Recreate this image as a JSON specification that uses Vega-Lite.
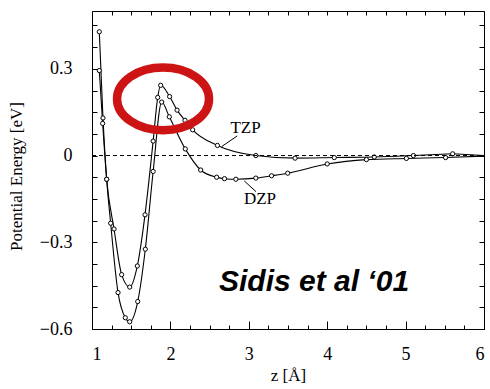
{
  "$schema": "https://vega.github.io/schema/vega-lite/v6.json",
  "width": 392,
  "height": 318,
  "autosize": "none",
  "padding": {"left": 92, "top": 11, "right": 6, "bottom": 60},
  "background": "white",
  "config": {
    "view": {"stroke": "black", "strokeWidth": 1},
    "axis": {
      "grid": false, "domain": false,
      "labelFont": "Liberation Serif", "titleFont": "Liberation Serif",
      "labelFontSize": 18, "titleFontSize": 17, "titleFontWeight": "normal",
      "labelColor": "black", "titleColor": "black", "tickColor": "black", "tickWidth": 1
    }
  },
  "datasets": {
    "curves": [
      {"series": "TZP", "z": 1.093, "E": 0.294},
      {"series": "TZP", "z": 1.136, "E": 0.111},
      {"series": "TZP", "z": 1.187, "E": -0.082},
      {"series": "TZP", "z": 1.281, "E": -0.254},
      {"series": "TZP", "z": 1.378, "E": -0.412},
      {"series": "TZP", "z": 1.481, "E": -0.455},
      {"series": "TZP", "z": 1.578, "E": -0.382},
      {"series": "TZP", "z": 1.676, "E": -0.205},
      {"series": "TZP", "z": 1.78, "E": 0.05},
      {"series": "TZP", "z": 1.838, "E": 0.201},
      {"series": "TZP", "z": 1.876, "E": 0.243},
      {"series": "TZP", "z": 1.99, "E": 0.204},
      {"series": "TZP", "z": 2.085, "E": 0.157},
      {"series": "TZP", "z": 2.186, "E": 0.122},
      {"series": "TZP", "z": 2.284, "E": 0.089},
      {"series": "TZP", "z": 2.6, "E": 0.035},
      {"series": "TZP", "z": 3.09, "E": 0.0},
      {"series": "TZP", "z": 3.59, "E": -0.009},
      {"series": "TZP", "z": 4.09, "E": -0.007},
      {"series": "TZP", "z": 4.6, "E": -0.005},
      {"series": "TZP", "z": 5.1, "E": 0.0},
      {"series": "TZP", "z": 5.6, "E": 0.006},
      {"series": "DZP", "z": 1.093, "E": 0.428},
      {"series": "DZP", "z": 1.14, "E": 0.13},
      {"series": "DZP", "z": 1.187, "E": -0.082},
      {"series": "DZP", "z": 1.238, "E": -0.234},
      {"series": "DZP", "z": 1.332, "E": -0.474},
      {"series": "DZP", "z": 1.425, "E": -0.561},
      {"series": "DZP", "z": 1.481, "E": -0.575},
      {"series": "DZP", "z": 1.583, "E": -0.505},
      {"series": "DZP", "z": 1.68, "E": -0.324},
      {"series": "DZP", "z": 1.78, "E": -0.055},
      {"series": "DZP", "z": 1.889, "E": 0.185},
      {"series": "DZP", "z": 1.986, "E": 0.134},
      {"series": "DZP", "z": 2.19, "E": 0.023},
      {"series": "DZP", "z": 2.386, "E": -0.05},
      {"series": "DZP", "z": 2.59, "E": -0.075},
      {"series": "DZP", "z": 2.69, "E": -0.08},
      {"series": "DZP", "z": 2.835, "E": -0.082},
      {"series": "DZP", "z": 3.09, "E": -0.078},
      {"series": "DZP", "z": 3.29, "E": -0.07},
      {"series": "DZP", "z": 3.496, "E": -0.061},
      {"series": "DZP", "z": 4.0, "E": -0.029},
      {"series": "DZP", "z": 4.5, "E": -0.014},
      {"series": "DZP", "z": 5.01, "E": -0.01},
      {"series": "DZP", "z": 5.51, "E": -0.007}
    ],
    "tails": [
      {"series": "TZP", "z": 5.6, "E": 0.006},
      {"series": "TZP", "z": 6.0, "E": 0.0},
      {"series": "DZP", "z": 5.51, "E": -0.007},
      {"series": "DZP", "z": 6.0, "E": -0.002}
    ],
    "zero": [{"z": 1, "E": 0}, {"z": 6, "E": 0}],
    "leaders": [
      {"label": "TZP", "z": 2.654, "E": 0.031},
      {"label": "TZP", "z": 2.853, "E": 0.068},
      {"label": "DZP", "z": 2.943, "E": -0.088},
      {"label": "DZP", "z": 3.092, "E": -0.125}
    ],
    "labels": [
      {"label": "TZP", "z": 2.958, "E": 0.095},
      {"label": "DZP", "z": 3.143, "E": -0.151}
    ],
    "note": [{"label": "Sidis et al ‘01", "z": 3.832, "E": -0.439}],
    "ring": [{"z": 1.906, "E": 0.196}]
  },
  "layer": [
    {
      "data": {"name": "curves"},
      "mark": {"type": "line", "color": "black", "strokeWidth": 1.1, "interpolate": "monotone"},
      "encoding": {
        "x": {"field": "z", "type": "quantitative", "scale": {"domain": [1, 6], "nice": false, "zero": false},
          "axis": {"orient": "bottom", "values": [1, 2, 3, 4, 5, 6], "tickSize": -8, "labelPadding": 24, "format": "d", "title": "z [Å]", "titlePadding": 4}},
        "y": {"field": "E", "type": "quantitative", "scale": {"domain": [-0.6, 0.5], "nice": false, "zero": false},
          "axis": {"orient": "left", "values": [-0.6, -0.525, -0.45, -0.375, -0.3, -0.225, -0.15, -0.075, 0, 0.075, 0.15, 0.225, 0.3, 0.375, 0.45],
            "tickSize": -5, "labelPadding": 25,
            "labelExpr": "abs(datum.value/0.3 - round(datum.value/0.3)) < 0.001 ? format(datum.value, '.1~f') : ''",
            "title": "Potential Energy [eV]", "titlePadding": 14, "titleY": 165}},
        "detail": {"field": "series"}
      }
    },
    {
      "data": {"name": "tails"},
      "mark": {"type": "line", "color": "black", "strokeWidth": 1.1},
      "encoding": {
        "x": {"field": "z", "type": "quantitative", "axis": null},
        "y": {"field": "E", "type": "quantitative", "axis": null},
        "detail": {"field": "series"}
      }
    },
    {
      "data": {"name": "curves"},
      "mark": {"type": "point", "shape": "circle", "size": 18, "filled": true, "fill": "white", "stroke": "black", "strokeWidth": 1, "opacity": 1},
      "encoding": {
        "x": {"field": "z", "type": "quantitative",
          "axis": {"orient": "top", "values": [1, 1.25, 1.5, 1.75, 2, 2.25, 2.5, 2.75, 3, 3.25, 3.5, 3.75, 4, 4.25, 4.5, 4.75, 5, 5.25, 5.5, 5.75, 6], "tickSize": -4, "labels": false, "title": null}},
        "y": {"field": "E", "type": "quantitative",
          "axis": {"orient": "right", "values": [-0.6, -0.525, -0.45, -0.375, -0.3, -0.225, -0.15, -0.075, 0, 0.075, 0.15, 0.225, 0.3, 0.375, 0.45], "tickSize": -5, "labels": false, "title": null}}
      }
    },
    {
      "data": {"name": "zero"},
      "mark": {"type": "line", "color": "black", "strokeWidth": 1, "strokeDash": [4, 3]},
      "encoding": {
        "x": {"field": "z", "type": "quantitative",
          "axis": {"orient": "bottom", "values": [1, 1.25, 1.5, 1.75, 2, 2.25, 2.5, 2.75, 3, 3.25, 3.5, 3.75, 4, 4.25, 4.5, 4.75, 5, 5.25, 5.5, 5.75, 6], "tickSize": -4, "labels": false, "title": null}},
        "y": {"field": "E", "type": "quantitative", "axis": null}
      }
    },
    {
      "data": {"name": "leaders"},
      "mark": {"type": "line", "color": "black", "strokeWidth": 1},
      "encoding": {
        "x": {"field": "z", "type": "quantitative", "axis": null},
        "y": {"field": "E", "type": "quantitative", "axis": null},
        "detail": {"field": "label"}
      }
    },
    {
      "data": {"name": "labels"},
      "mark": {"type": "text", "font": "Liberation Serif", "fontSize": 17, "color": "black", "align": "center", "baseline": "middle"},
      "encoding": {
        "x": {"field": "z", "type": "quantitative", "axis": null},
        "y": {"field": "E", "type": "quantitative", "axis": null},
        "text": {"field": "label"}
      }
    },
    {
      "data": {"name": "note"},
      "mark": {"type": "text", "font": "Liberation Sans", "fontSize": 30, "fontWeight": "bold", "fontStyle": "italic", "color": "black", "align": "center", "baseline": "middle"},
      "encoding": {
        "x": {"field": "z", "type": "quantitative", "axis": null},
        "y": {"field": "E", "type": "quantitative", "axis": null},
        "text": {"field": "label"}
      }
    },
    {
      "data": {"name": "ring"},
      "mark": {"type": "point", "shape": "M -1 0 A 1 0.68 0 1 0 1 0 A 1 0.68 0 1 0 -1 0 Z", "size": 8464, "filled": false, "stroke": "#cc1414", "strokeWidth": 8.5, "opacity": 1},
      "encoding": {
        "x": {"field": "z", "type": "quantitative", "axis": null},
        "y": {"field": "E", "type": "quantitative", "axis": null}
      }
    }
  ],
  "resolve": {"axis": {"x": "independent", "y": "independent"}}
}
